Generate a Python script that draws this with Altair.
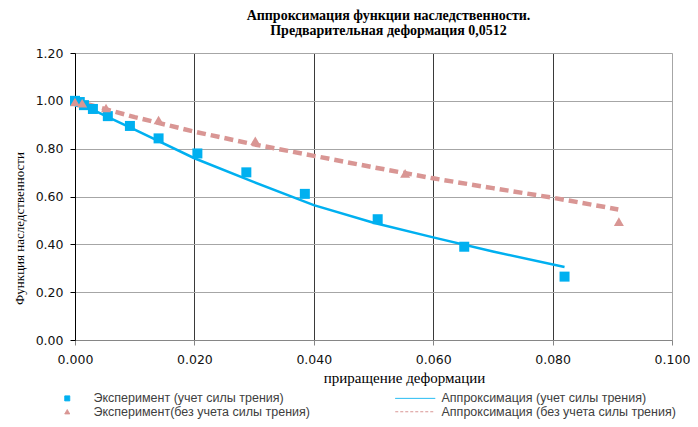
import altair as alt
import pandas as pd

S1 = "Эксперимент (учет силы трения)"
S2 = "Аппроксимация (учет силы трения)"
S3 = "Эксперимент(без учета силы трения)"
S4 = "Аппроксимация (без учета силы трения)"
# legend is filled column by column: column 1 = S1, S3; column 2 = S2, S4
legend_order = [S1, S3, S2, S4]
BLUE = "#00b0f0"
PINK = "#d99694"
LINE_SYMBOL = "M-8,0H8"

# experiment, with friction (squares)
exp1_x = [0.0000, 0.0008, 0.0015, 0.0030, 0.0055, 0.0092, 0.0140, 0.0205, 0.0287, 0.0385, 0.0507, 0.0652, 0.0820]
exp1_y = [1.000, 0.995, 0.982, 0.966, 0.936, 0.895, 0.843, 0.780, 0.701, 0.611, 0.505, 0.390, 0.265]

# approximation, with friction (solid line)
app1_x = [0.000, 0.005, 0.010, 0.020, 0.030, 0.040, 0.050, 0.060, 0.070, 0.082]
app1_y = [1.000, 0.938, 0.880, 0.760, 0.660, 0.564, 0.490, 0.429, 0.370, 0.305]

# experiment, without friction (triangles)
exp2_x = [0.0000, 0.0012, 0.0052, 0.0140, 0.0302, 0.0553, 0.0911]
exp2_y = [0.995, 0.990, 0.970, 0.920, 0.833, 0.697, 0.495]

# approximation, without friction (dashed line)
app2_x = [0.000, 0.010, 0.020, 0.030, 0.040, 0.050, 0.060, 0.070, 0.080, 0.091]
app2_y = [1.000, 0.932, 0.871, 0.818, 0.770, 0.722, 0.676, 0.635, 0.595, 0.546]

d_exp1 = pd.DataFrame({"x": exp1_x, "y": exp1_y})
d_app1 = pd.DataFrame({"x": app1_x, "y": app1_y})
d_exp2 = pd.DataFrame({"x": exp2_x, "y": exp2_y})
d_app2 = pd.DataFrame({"x": app2_x, "y": app2_y})

xs = alt.Scale(domain=[0, 0.1], nice=False, zero=False)
ys = alt.Scale(domain=[0, 1.2], nice=False)

xaxis = alt.Axis(
    values=[0, 0.02, 0.04, 0.06, 0.08, 0.1], format=".3f", labelFlush=False,
    title="приращение деформации", titleFont="Liberation Serif", titleFontSize=15,
    titleFontWeight="normal", titleColor="#000", titleX=329, titleY=37,
    titleBaseline="middle",
    labelFont="DejaVu Sans", labelFontSize=12.5, labelColor="#111", labelPadding=8,
    domainColor="#868686", tickColor="#868686", tickSize=5,
    gridColor=alt.condition("datum.value >= 0.1", alt.value("#a6a6a6"), alt.value("#3a3a3a")),
    grid=True,
)
yaxis = alt.Axis(
    values=[0, 0.2, 0.4, 0.6, 0.8, 1.0, 1.2], format=".2f", labelFlush=False,
    title="Функция наследственности", titleFont="Liberation Serif", titleFontSize=13,
    titleFontWeight="normal", titleColor="#000", titleX=-56, titleY=175,
    titleAngle=-90, titleBaseline="middle",
    labelFont="DejaVu Sans", labelFontSize=12.5, labelColor="#111", labelPadding=7,
    domainColor="#000", tickColor="#000", tickSize=5,
    gridColor="#a6a6a6", grid=True,
)

X = alt.X("x:Q", scale=xs, axis=xaxis)
Y = alt.Y("y:Q", scale=ys, axis=yaxis)

app1 = alt.Chart(d_app1).mark_line(color=BLUE, strokeWidth=2.5).encode(x=X, y=Y)
app2 = alt.Chart(d_app2).mark_line(color=PINK, strokeWidth=4.5, strokeDash=[9, 5], strokeCap="butt").encode(x=X, y=Y)
exp1 = alt.Chart(d_exp1).mark_point(shape="square", filled=True, opacity=1, size=100, color=BLUE).encode(x=X, y=Y)
exp2 = alt.Chart(d_exp2).mark_point(shape="triangle-up", filled=True, opacity=1, size=100, color=PINK).encode(x=X, y=Y)

leg = alt.Legend(
    title=None, orient="none", legendX=-14, legendY=339, columns=2,
    columnPadding=83, rowPadding=0.5, labelOffset=20, labelLimit=0,
    labelFont="Liberation Sans", labelFontSize=12.5, labelColor="#404040",
    symbolSize=25, symbolStrokeWidth=1, symbolOpacity=1,
)
legend_layer = alt.Chart(alt.InlineData(values=[])).mark_point().encode(
    fill=alt.Fill("s:N", sort=legend_order, scale=alt.Scale(domain=legend_order, range=[BLUE, PINK, "transparent", "transparent"]), legend=leg),
    stroke=alt.Stroke("s:N", sort=legend_order, scale=alt.Scale(domain=legend_order, range=[BLUE, PINK, BLUE, PINK]), legend=leg),
    shape=alt.Shape("s:N", sort=legend_order, scale=alt.Scale(domain=legend_order, range=["square", "triangle-up", LINE_SYMBOL, LINE_SYMBOL]), legend=leg),
    strokeDash=alt.StrokeDash("s:N", sort=legend_order, scale=alt.Scale(domain=legend_order, range=[[1, 0], [1, 0], [1, 0], [3, 2]]), legend=leg),
)

chart = alt.layer(app1, app2, exp1, exp2, legend_layer).properties(
    width=597, height=287,
    autosize=alt.AutoSizeParams(type="none"),
    padding={"left": 67, "top": 45, "right": 18, "bottom": 79},
    title=alt.TitleParams(
        text=["Аппроксимация функции наследственности.", "Предварительная деформация 0,0512"],
        font="Liberation Serif", fontSize=14, fontWeight="bold", color="#000",
        anchor="middle", dx=15, offset=9, lineHeight=15,
    ),
).configure_view(stroke="#a6a6a6", strokeWidth=1).configure(background="white")

chart.save("out.html", embed_options={"renderer": "svg", "actions": False})
